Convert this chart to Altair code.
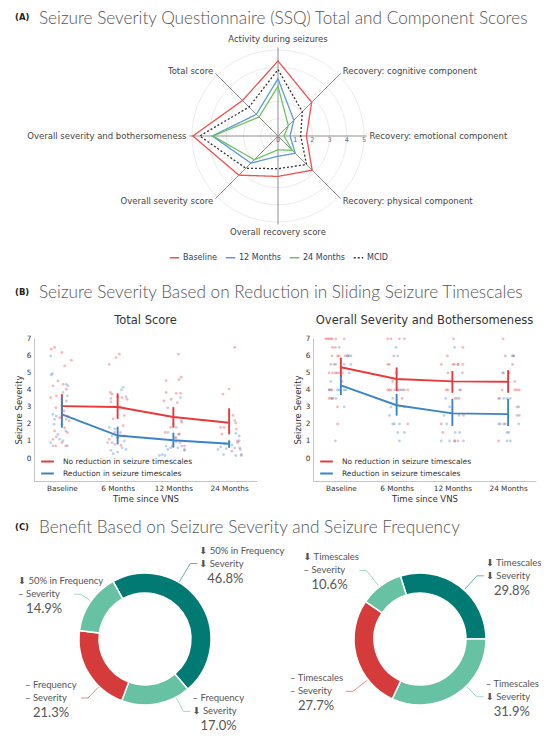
import math
import altair as alt
import pandas as pd

# ======================= DATA =======================
# ---- (A) radar ----
AXES = ["Activity during seizures", "Recovery: cognitive component",
        "Recovery: emotional component", "Recovery: physical component",
        "Overall recovery score", "Overall severity score",
        "Overall severity and bothersomeness", "Total score"]
SERIES = ["Baseline", "12 Months", "24 Months", "MCID"]
BASELINE = [4.36, 2.77, 1.65, 2.81, 2.35, 3.22, 4.95, 2.92]
MONTHS_12 = [3.33, 1.30, 0.70, 1.42, 1.18, 2.23, 3.82, 1.78]
MONTHS_24 = [2.89, 0.85, 0.35, 1.18, 0.80, 1.95, 3.78, 1.56]
MCID = [3.86, 2.00, 1.32, 2.35, 1.90, 2.65, 4.55, 2.38]
RADIAL_TICKS = [0, 1, 2, 3, 4, 5]

# ---- (B) severity over time ----
TIMES = ["Baseline", "6 Months", "12 Months", "24 Months"]
GROUPS = ["No reduction in seizure timescales", "Reduction in seizure timescales"]

# individual observations: (time index, horizontal jitter, value)
TOTAL_NO = [
    (0, -0.19, 6.39), (0, -0.13, 6.49), (0, 0.0, 6.2), (0, 0.17, 5.75), (0, 0.05, 5.41),
    (0, -0.07, 4.53), (0, -0.16, 4.24), (0, 0.02, 4.33), (0, 0.08, 4.04), (0, -0.1, 3.65),
    (0, -0.2, 3.55), (0, 0.08, 3.35), (0, -0.11, 2.96), (0, 0.04, 2.76), (0, 0.1, 2.47),
    (0, -0.04, 2.37), (0, 0.13, 2.18), (0, 0.05, 1.78), (0, -0.13, 1.59), (0, 0.1, 1.5),
    (0, -0.1, 1.24), (0, -0.16, 1.1), (0, 0.0, 0.9), (0, 0.07, 0.71), (0, -0.11, 0.71),
    (1, -0.15, 5.5), (1, -0.03, 5.9), (1, 0.03, 6.1), (1, -0.13, 3.85), (1, -0.1, 3.75),
    (1, 0.0, 3.6), (1, 0.08, 3.55), (1, 0.17, 3.45), (1, -0.12, 3.3), (1, 0.05, 3.0),
    (1, 0.12, 2.5), (1, -0.08, 2.3), (1, 0.1, 1.9), (1, -0.05, 1.5), (1, 0.0, 1.2),
    (1, -0.1, 0.9), (1, 0.06, 0.75), (1, 0.12, 1.3), (1, -0.15, 1.1),
    (2, 0.09, 6.1), (2, 0.14, 4.75), (2, 0.1, 4.6), (2, -0.13, 4.55), (2, -0.13, 3.85),
    (2, 0.05, 3.8), (2, 0.13, 3.8), (2, -0.17, 3.35), (2, -0.04, 3.45), (2, 0.07, 3.25),
    (2, -0.1, 2.95), (2, 0.15, 2.1), (2, -0.05, 1.8), (2, -0.15, 1.5), (2, 0.1, 1.4),
    (2, 0.12, 0.9), (2, 0.2, 0.7), (2, 0.2, 0.45), (2, -0.02, 0.7), (2, 0.05, 1.2),
    (3, 0.1, 6.5), (3, 0.0, 4.05), (3, -0.11, 3.75), (3, -0.15, 1.8), (3, -0.09, 1.8),
    (3, 0.07, 2.5), (3, 0.1, 2.2), (3, 0.12, 2.05), (3, 0.13, 1.7), (3, 0.18, 1.0),
    (3, 0.19, 0.6), (3, 0.22, 0.2), (3, -0.13, 1.4), (3, 0.05, 0.4), (3, 0.15, 0.9)]
TOTAL_RED = [
    (0, -0.2, 6.0), (0, -0.19, 4.88), (0, -0.17, 4.95), (0, 0.08, 4.33), (0, 0.11, 4.24),
    (0, 0.02, 3.85), (0, 0.1, 3.65), (0, -0.16, 2.57), (0, -0.1, 2.47), (0, -0.13, 2.27),
    (0, 0.08, 2.27), (0, -0.14, 1.98), (0, 0.0, 1.98), (0, 0.07, 1.59), (0, -0.07, 1.39),
    (0, -0.04, 1.1), (0, -0.2, 0.9), (0, 0.02, 1.0), (0, 0.1, 0.71), (0, -0.16, 0.71),
    (1, 0.1, 4.15), (1, 0.07, 4.0), (1, -0.12, 3.5), (1, 0.15, 3.6), (1, -0.15, 1.8),
    (1, -0.05, 1.7), (1, 0.05, 1.5), (1, -0.1, 1.3), (1, 0.0, 1.2), (1, 0.12, 1.0),
    (1, -0.18, 0.9), (1, -0.05, 0.8), (1, 0.08, 0.6), (1, -0.12, 0.45), (1, 0.0, 0.35),
    (1, 0.15, 0.5), (1, -0.08, 0.25),
    (2, 0.13, 3.55), (2, 0.14, 2.2), (2, 0.0, 2.0), (2, 0.05, 1.8), (2, -0.1, 1.5),
    (2, 0.1, 1.4), (2, 0.03, 1.2), (2, 0.05, 0.95), (2, -0.13, 0.7), (2, 0.08, 0.6),
    (2, -0.1, 0.5), (2, -0.2, 0.2), (2, -0.15, 0.15), (2, -0.25, 0.15), (2, 0.2, 0.5),
    (2, 0.15, 0.7), (2, -0.05, 0.6),
    (3, 0.12, 1.45), (3, 0.18, 1.3), (3, 0.15, 1.0), (3, 0.0, 0.95), (3, -0.08, 0.85),
    (3, 0.05, 0.75), (3, 0.1, 0.6), (3, -0.05, 0.55), (3, -0.15, 0.65), (3, 0.2, 0.5),
    (3, -0.1, 0.2), (3, 0.12, 0.15), (3, 0.22, 0.15), (3, -0.2, 0.5)]
BOTHER_NO = [
    (0, -0.27, 7), (0, -0.24, 7), (0, -0.21, 7), (0, -0.18, 7), (0, -0.15, 7), (0, -0.09, 7),
    (0, 0.06, 7), (0, -0.15, 6.5), (0, -0.1, 6.5), (0, -0.16, 6), (0, -0.06, 6), (0, -0.03, 6),
    (0, 0.08, 6), (0, 0.12, 6), (0, -0.18, 5.5), (0, -0.12, 5.5), (0, -0.21, 5), (0, -0.15, 5),
    (0, -0.1, 5), (0, -0.07, 5), (0, 0.03, 5), (0, 0.02, 4.5), (0, -0.21, 4), (0, -0.16, 4),
    (0, -0.21, 3.5), (0, -0.18, 3.5), (0, -0.15, 3.5), (0, -0.06, 3), (0, -0.06, 2),
    (1, -0.16, 7), (1, -0.1, 7), (1, 0.05, 7), (1, 0.14, 7), (1, -0.16, 5.5), (1, -0.13, 5.5),
    (1, -0.01, 5), (1, -0.07, 4.5), (1, -0.16, 4), (1, -0.13, 4), (1, -0.1, 4), (1, 0.02, 4),
    (1, 0.05, 4), (1, 0.14, 4), (1, 0.2, 4), (1, 0.14, 3), (1, 0.2, 2), (1, -0.05, 6),
    (1, 0.1, 3.5),
    (2, 0.02, 7), (2, 0.19, 6.5), (2, -0.09, 6), (2, -0.2, 5.5), (2, 0.01, 5.5), (2, 0.04, 5.5),
    (2, 0.1, 5.5), (2, 0.19, 5.5), (2, -0.08, 5), (2, 0.18, 5), (2, -0.11, 4), (2, -0.08, 4),
    (2, 0.13, 4), (2, 0.05, 3.5), (2, -0.17, 1.5), (2, 0.04, 1), (2, 0.1, 1), (2, 0.2, 2.5),
    (2, -0.2, 2), (2, 0.12, 3.5),
    (3, -0.09, 7), (3, -0.05, 6), (3, 0.1, 6), (3, -0.1, 5), (3, 0.02, 5), (3, 0.12, 4.5),
    (3, -0.11, 4), (3, 0.12, 4), (3, 0.16, 4), (3, 0.2, 4), (3, -0.15, 3.5), (3, 0.16, 3),
    (3, 0.2, 2.5), (3, -0.17, 1), (3, 0.08, 5.5), (3, -0.05, 2)]
BOTHER_RED = [
    (0, -0.03, 6.5), (0, 0.12, 6), (0, 0.15, 6), (0, 0.18, 6), (0, -0.09, 5.5), (0, 0.06, 5.5),
    (0, 0.18, 5.5), (0, -0.03, 5), (0, 0.15, 5), (0, -0.18, 4.5), (0, -0.21, 4), (0, -0.18, 4),
    (0, -0.06, 4), (0, -0.03, 4), (0, 0.06, 4), (0, 0.09, 4), (0, -0.15, 3.5), (0, -0.09, 3.5),
    (0, 0.06, 3), (0, -0.1, 1),
    (1, -0.01, 6.5), (1, 0.02, 6), (1, -0.04, 4), (1, 0.08, 4), (1, 0.11, 4), (1, -0.07, 3.5),
    (1, -0.1, 3), (1, -0.13, 2.5), (1, -0.07, 2), (1, -0.04, 2), (1, 0.05, 2), (1, 0.02, 1.5),
    (1, 0.14, 1.5), (1, 0.05, 1),
    (2, 0.04, 6.5), (2, 0.1, 5.5), (2, -0.12, 3.5), (2, 0.08, 3.5), (2, 0.15, 4), (2, -0.05, 3),
    (2, 0.12, 2.5), (2, -0.1, 2), (2, 0.05, 1.5), (2, 0.13, 1.5), (2, -0.2, 1), (2, -0.05, 1),
    (2, 0.04, 1), (2, 0.2, 1), (2, -0.15, 2.5),
    (3, 0.07, 6), (3, 0.1, 6), (3, -0.08, 5), (3, -0.17, 3.5), (3, -0.08, 3.5), (3, -0.02, 3.5),
    (3, 0.04, 3.5), (3, 0.19, 3), (3, 0.16, 2.5), (3, -0.17, 2), (3, -0.08, 2), (3, -0.14, 2),
    (3, 0.19, 2), (3, -0.02, 1.5), (3, 0.01, 1.5), (3, -0.02, 1), (3, 0.04, 1)]

TOTAL_NO_MEAN = [3.05, 3.00, 2.41, 2.07]
TOTAL_NO_LO = [2.30, 2.30, 1.78, 1.39]
TOTAL_NO_HI = [3.75, 3.80, 2.99, 2.92]
TOTAL_RED_MEAN = [2.57, 1.32, 1.04, 0.84]
TOTAL_RED_LO = [1.78, 0.80, 0.61, 0.60]
TOTAL_RED_HI = [3.60, 1.84, 1.49, 1.04]
BOTHER_NO_MEAN = [5.33, 4.64, 4.50, 4.48]
BOTHER_NO_LO = [4.74, 3.93, 3.83, 3.83]
BOTHER_NO_HI = [5.89, 5.32, 5.11, 5.16]
BOTHER_RED_MEAN = [4.27, 3.10, 2.62, 2.58]
BOTHER_RED_LO = [3.70, 2.49, 1.88, 1.88]
BOTHER_RED_HI = [4.85, 3.77, 3.48, 3.48]

# ---- (C) donuts (segments listed clockwise from each donut's start angle) ----
CLASSES = ["both", "one", "none"]
LEFT_LINE1 = ["⬇ 50% in Frequency", "– Frequency", "– Frequency", "⬇ 50% in Frequency"]
LEFT_LINE2 = ["⬇ Severity", "⬇ Severity", "– Severity", "– Severity"]
LEFT_PCT = [46.8, 17.0, 21.3, 14.9]
LEFT_CLASS = ["both", "one", "none", "one"]
RIGHT_LINE1 = ["⬇ Timescales", "– Timescales", "– Timescales", "⬇ Timescales"]
RIGHT_LINE2 = ["⬇ Severity", "⬇ Severity", "– Severity", "– Severity"]
RIGHT_PCT = [29.8, 31.9, 27.7, 10.6]
RIGHT_CLASS = ["both", "one", "none", "one"]

# ======================= STYLE / LAYOUT =======================
TITLE_FONT = "Lato, 'Open Sans', sans-serif"
LABEL_FONT = "Lato, 'DejaVu Sans', sans-serif"
RADAR_COLORS = ["#ee5050", "#5b9bd7", "#6cc25e", "#333333"]
B_COLORS = ["#e83a3a", "#3d84c6"]
DONUT_COLORS = ["#007a72", "#66c2a2", "#d63b3b"]
PADX = -25  # common left overflow of every row (keeps all rows aligned)

DONUT_START_DEG = [-29, -17.3]
DONUT_CENTER_X = [111, 386]
LEADER_DEG = [[31, 152, 224, 305], [42, 135.5, 232, 322]]
LEADER_ELBOW = [[88, 82, 82, 78], [85, 81, 85, 87]]


def pad_rule(y0, y1):
    return alt.Chart(pd.DataFrame({"p": [0]})).mark_rule(color="white", strokeWidth=1).encode(
        x=alt.value(PADX), y=alt.value(y0), y2=alt.value(y1))


def header(letter, title, h, yc):
    d = pd.DataFrame({"t": [title]})
    lt = alt.Chart(d).mark_text(align="left", baseline="middle", font="DejaVu Sans",
                                fontSize=8.5, fontWeight="bold", color="#222").encode(
        x=alt.value(-19), y=alt.value(yc - 1.5), text=alt.value(letter))
    tt = alt.Chart(d).mark_text(align="left", baseline="middle", font=TITLE_FONT,
                                fontSize=17.2, fontWeight=300, color="#555").encode(
        x=alt.value(5), y=alt.value(yc), text="t:N")
    return alt.layer(pad_rule(1, h - 1), lt, tt).properties(width=488, height=h)


# ---------------- (A) radar ----------------
N_AX = len(AXES)
U = 17.2
RW, RH, RCX, RCY = 488, 240, 244, 106
xr = alt.Scale(domain=[-RCX / U, (RW - RCX) / U], nice=False, zero=False)
yr = alt.Scale(domain=[-(RH - RCY) / U, RCY / U], nice=False, zero=False)
ANG = f"datum.idx * 2 * PI / {N_AX}"


def RX(f):
    return alt.X(f, scale=xr, axis=None)


def RY(f):
    return alt.Y(f, scale=yr, axis=None)


radar_rows = []
for s, vals in zip(SERIES, [BASELINE, MONTHS_12, MONTHS_24, MCID]):
    for i, v in enumerate(vals):
        radar_rows.append({"series": s, "idx": i, "value": v})
radar_df = pd.DataFrame(radar_rows)
axes_df = pd.DataFrame({"axis": AXES, "idx": list(range(N_AX))})

rings = alt.Chart(pd.DataFrame({"r": RADIAL_TICKS[1:]})).transform_calculate(
    k="sequence(0, 73)").transform_flatten(["k"]).transform_calculate(
    a="datum.k * 2 * PI / 72", x="datum.r * sin(datum.a)", y="datum.r * cos(datum.a)"
).mark_line(color="#ececec", strokeWidth=1).encode(
    x=RX("x:Q"), y=RY("y:Q"), detail="r:N", order="k:Q")

spokes = alt.Chart(axes_df).transform_calculate(
    a=ANG, x0="0", y0="0", x1="5.15 * sin(datum.a)", y1="5.15 * cos(datum.a)"
).mark_rule(color="#8f8f8f", strokeWidth=1).encode(
    x=RX("x0:Q"), y=RY("y0:Q"), x2="x1:Q", y2="y1:Q")

leg_r = alt.Legend(title=None, orient="none", legendX=135, legendY=222,
                   direction="horizontal", symbolType="stroke", symbolSize=90,
                   symbolStrokeWidth=1.5, labelFont="DejaVu Sans", labelFontSize=8,
                   labelColor="#2a3f5f", columnPadding=5, labelOffset=3)
lines = alt.Chart(radar_df).transform_calculate(
    a=ANG, x="datum.value * sin(datum.a)", y="datum.value * cos(datum.a)"
).mark_line(interpolate="linear-closed", strokeWidth=1.3).encode(
    x=RX("x:Q"), y=RY("y:Q"), order="idx:Q",
    color=alt.Color("series:N", scale=alt.Scale(domain=SERIES, range=RADAR_COLORS),
                    legend=leg_r, sort=SERIES),
    strokeDash=alt.StrokeDash("series:N", scale=alt.Scale(
        domain=SERIES, range=[[1, 0], [1, 0], [1, 0], [2, 2]]), legend=leg_r, sort=SERIES))

lab_base = alt.Chart(axes_df).transform_calculate(
    a=ANG, lx="5.32 * sin(datum.a)", ly="5.32 * cos(datum.a)")
lab_kw = dict(font="DejaVu Sans", fontSize=8.5, color="#444")
lab_enc = dict(x=RX("lx:Q"), y=RY("ly:Q"), text="axis:N")
lab_top = lab_base.transform_filter("datum.idx == 0").mark_text(
    align="center", baseline="bottom", **lab_kw).encode(**lab_enc)
lab_right = lab_base.transform_filter("datum.idx >= 1 && datum.idx <= 3").mark_text(
    align="left", baseline="middle", **lab_kw).encode(**lab_enc)
lab_bottom = lab_base.transform_filter("datum.idx == 4").mark_text(
    align="center", baseline="top", **lab_kw).encode(**lab_enc)
lab_left = lab_base.transform_filter("datum.idx >= 5").mark_text(
    align="right", baseline="middle", **lab_kw).encode(**lab_enc)

rticks = alt.Chart(pd.DataFrame({"r": RADIAL_TICKS})).transform_calculate(y0="0").mark_text(
    font="DejaVu Sans", fontSize=6.5, color="#5a6f92", baseline="middle", dy=4).encode(
    x=RX("r:Q"), y=RY("y0:Q"), text="r:Q")

radar = alt.layer(pad_rule(1, RH - 1), rings, spokes, lines, lab_top, lab_right, lab_bottom,
                  lab_left, rticks).properties(width=RW, height=RH)


# ---------------- (B) severity ----------------
BW, BH = 223, 143


def severity(title, no_pts, red_pts, no_m, no_lo, no_hi, red_m, red_lo, red_hi, ytitle):
    rows = [{"group": GROUPS[0], "t": t, "jit": j, "v": v} for t, j, v in no_pts]
    rows += [{"group": GROUPS[1], "t": t, "jit": j, "v": v} for t, j, v in red_pts]
    pts = pd.DataFrame(rows)
    srows = []
    for g, m, lo, hi in [(GROUPS[0], no_m, no_lo, no_hi), (GROUPS[1], red_m, red_lo, red_hi)]:
        for i in range(len(TIMES)):
            srows.append({"group": g, "t": i, "mean": m[i], "lo": lo[i], "hi": hi[i]})
    summ = pd.DataFrame(srows)

    label_expr = "[" + ",".join(f"'{t}'" for t in TIMES) + "][datum.value]"
    xs = alt.Scale(domain=[-0.5, len(TIMES) - 0.5], nice=False, zero=False)
    ys = alt.Scale(domain=[-1.35, 7.05], nice=False, zero=False)
    xax = alt.Axis(values=list(range(len(TIMES))), labelExpr=label_expr, title="Time since VNS",
                   grid=False, ticks=False, domainColor="#c4c4c4", labelFontSize=7.3,
                   labelColor="#333", titleFontSize=8.5, titleFontWeight="normal",
                   titleColor="#333", labelPadding=3, titlePadding=3, labelFlush=False,
                   labelFont="DejaVu Sans", titleFont="DejaVu Sans")
    yax = alt.Axis(values=list(range(8)), title=ytitle, grid=False, ticks=False,
                   domainColor="#c4c4c4", labelFontSize=7.3, labelColor="#333",
                   titleFontSize=8.5, titleFontWeight="normal", titleColor="#333",
                   labelPadding=3, titlePadding=3, labelFont="DejaVu Sans",
                   titleFont="DejaVu Sans")
    cscale = alt.Scale(domain=GROUPS, range=B_COLORS)
    leg = alt.Legend(title=None, orient="none", legendX=6, legendY=116, symbolType="stroke",
                     symbolSize=160, symbolStrokeWidth=2, labelFontSize=7.5,
                     labelColor="#333", labelFont="DejaVu Sans", rowPadding=0,
                     labelOffset=8, symbolOpacity=1)

    ln = alt.Chart(summ).mark_line(strokeWidth=1.9).encode(
        x=alt.X("t:Q", scale=xs, axis=xax), y=alt.Y("mean:Q", scale=ys, axis=yax),
        color=alt.Color("group:N", scale=cscale, legend=leg))
    p = alt.Chart(pts).transform_calculate(xp="datum.t + datum.jit").mark_circle(
        size=8, opacity=0.35).encode(
        x=alt.X("xp:Q", scale=xs, axis=xax), y=alt.Y("v:Q", scale=ys, axis=yax),
        color=alt.Color("group:N", scale=cscale, legend=None))
    eb = alt.Chart(summ).mark_rule(strokeWidth=1.9).encode(
        x=alt.X("t:Q", scale=xs, axis=xax), y=alt.Y("lo:Q", scale=ys, axis=yax), y2="hi:Q",
        color=alt.Color("group:N", scale=cscale, legend=None))
    ttl = alt.Chart(pd.DataFrame({"t": [title]})).mark_text(
        font="DejaVu Sans", fontSize=11.5, color="#333", align="center",
        baseline="middle").encode(x=alt.value(BW / 2), y=alt.value(-17), text="t:N")
    return alt.layer(ln, pad_rule(-30, 173), p, eb, ttl).properties(width=BW, height=BH)


sev_left = severity("Total Score", TOTAL_NO, TOTAL_RED, TOTAL_NO_MEAN, TOTAL_NO_LO,
                    TOTAL_NO_HI, TOTAL_RED_MEAN, TOTAL_RED_LO, TOTAL_RED_HI, "Seizure Severity")
sev_right = severity("Overall Severity and Bothersomeness", BOTHER_NO, BOTHER_RED,
                     BOTHER_NO_MEAN, BOTHER_NO_LO, BOTHER_NO_HI, BOTHER_RED_MEAN,
                     BOTHER_RED_LO, BOTHER_RED_HI, "Seizure Severity")
brow = alt.hconcat(sev_left, sev_right, spacing=30).resolve_scale(color="independent")

# ---------------- (C) donuts (one chart, two donuts) ----------------
drows = []
for d, (l1, l2, pc, cl) in enumerate([(LEFT_LINE1, LEFT_LINE2, LEFT_PCT, LEFT_CLASS),
                                      (RIGHT_LINE1, RIGHT_LINE2, RIGHT_PCT, RIGHT_CLASS)]):
    for i in range(len(pc)):
        drows.append({"d": d, "order": i, "line1": l1[i], "line2": l2[i], "pct": pc[i],
                      "cls": cl[i], "la": LEADER_DEG[d][i], "er": LEADER_ELBOW[d][i]})
donut_df = pd.DataFrame(drows)

DW, DH = 501, 194
dxs = alt.Scale(domain=[0, DW], nice=False, zero=False)
dys = alt.Scale(domain=[-DH / 2, DH / 2], nice=False, zero=False)


def arr(vals):
    return "[" + ",".join(str(v) for v in vals) + "][datum.d]"


dbase = alt.Chart(donut_df).transform_window(
    cum="sum(pct)", groupby=["d"], sort=[alt.SortField("order")], frame=[None, 0]
).transform_joinaggregate(tot="sum(pct)", groupby=["d"]).transform_calculate(
    st=arr(DONUT_START_DEG) + " * PI / 180",
    cx=arr(DONUT_CENTER_X), cy="0",
    t1="datum.st + 2 * PI * datum.cum / datum.tot",
    t0="datum.t1 - 2 * PI * datum.pct / datum.tot",
    a="datum.la * PI / 180",
    s="sin(datum.a) >= 0 ? 1 : -1",
    ax="datum.cx + 67 * sin(datum.a)", ay="67 * cos(datum.a)",
    bx="datum.cx + datum.er * sin(datum.a)", by="datum.er * cos(datum.a)",
    ex="datum.bx + 7 * datum.s",
    tx="datum.s > 0 ? datum.ex + 2 : datum.ex - 56",
    px="datum.tx + 8", y1="datum.by + 13", y3="datum.by - 15",
    lab="format(datum.pct, '.1f') + '%'")
dcol = alt.Color("cls:N", scale=alt.Scale(domain=CLASSES, range=DONUT_COLORS), legend=None)


def DX(f):
    return alt.X(f, scale=dxs, axis=None)


def DY(f):
    return alt.Y(f, scale=dys, axis=None)


d_arc = dbase.mark_arc(innerRadius=46, outerRadius=66, stroke="white", strokeWidth=1.5).encode(
    x=DX("cx:Q"), y=DY("cy:Q"),
    theta=alt.Theta("t0:Q", scale=None, stack=None), theta2="t1:Q", color=dcol)
d_l1 = dbase.mark_rule(strokeWidth=1, opacity=0.6).encode(
    x=DX("ax:Q"), y=DY("ay:Q"), x2="bx:Q", y2="by:Q", color=dcol)
d_l2 = dbase.mark_rule(strokeWidth=1, opacity=0.6).encode(
    x=DX("bx:Q"), y=DY("by:Q"), x2="ex:Q", y2="by:Q", color=dcol)
tk = dict(align="left", baseline="middle", font=LABEL_FONT, color="#555")
d_t1 = dbase.mark_text(fontSize=9.5, **tk).encode(x=DX("tx:Q"), y=DY("y1:Q"), text="line1:N")
d_t2 = dbase.mark_text(fontSize=9.5, **tk).encode(x=DX("tx:Q"), y=DY("by:Q"), text="line2:N")
d_t3 = dbase.mark_text(fontSize=13, **tk).encode(x=DX("px:Q"), y=DY("y3:Q"), text="lab:N")
crow = alt.layer(pad_rule(1, DH - 1), d_arc, d_l1, d_l2, d_t1, d_t2, d_t3).properties(
    width=DW, height=DH)

# ---------------- assemble ----------------
headA = header("(A)", "Seizure Severity Questionnaire (SSQ) Total and Component Scores", 22, 10.5)
headB = header("(B)", "Seizure Severity Based on Reduction in Sliding Seizure Timescales", 37, 23)
headC = header("(C)", "Benefit Based on Seizure Severity and Seizure Frequency", 30, 16)

chart = alt.vconcat(headA, radar, headB, brow, headC, crow, spacing=0).resolve_scale(
    color="independent", strokeDash="independent").properties(
    padding=0).configure(font="DejaVu Sans").configure_view(stroke=None)

chart.save("out.html", embed_options={"renderer": "svg", "actions": False})
